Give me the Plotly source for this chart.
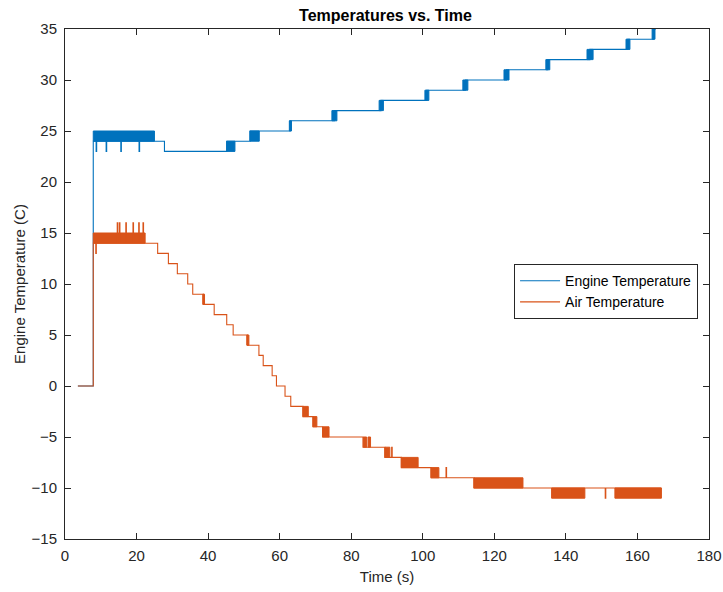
import plotly.graph_objects as go

# ---------------- data ----------------
# Engine temperature: step signal (value holds until next time)
engine_t = [3.6, 7.9, 8.7, 8.85, 11.5, 11.65, 15.6, 15.75, 20.7, 20.85, 25.0,
            27.8, 45.2, 51.7, 62.9, 75.3, 88.3, 101.1, 111.9, 123.4, 134.9,
            146.7, 157.3, 164.5, 165.2]
engine_v = [0, 24, 23, 24, 23, 24, 23, 24, 23, 24, 24,
            23, 24, 25, 26, 27, 28, 29, 30, 31, 32,
            33, 34, 35, 35]
# Engine dither bands (signal toggling rapidly between two levels)
engine_band_start = [7.9, 45.2, 51.7, 62.7, 74.6, 87.8, 100.6, 111.2, 122.7, 134.4, 145.9, 156.8, 164.1]
engine_band_end = [25.0, 47.5, 54.3, 63.3, 76.0, 89.0, 101.7, 112.6, 124.1, 135.5, 147.6, 157.9, 164.9]
engine_band_low = [24, 23, 24, 25, 26, 27, 28, 29, 30, 31, 32, 33, 34]
engine_band_high = [25, 24, 25, 26, 27, 28, 29, 30, 31, 32, 33, 34, 35]

# Air temperature
air_t = [3.6, 7.9, 8.6, 8.75, 14.6, 14.75, 15.2, 15.35, 17.0, 17.15, 19.0, 19.15,
         20.6, 20.75, 21.8, 21.95, 25.9, 28.9, 31.4, 34.3, 35.7, 38.7, 41.7,
         45.2, 47.0, 51.0, 54.2, 55.4, 57.9, 59.1, 61.5, 63.1, 66.5, 69.3,
         72.0, 83.3, 89.4, 91.3, 91.45, 94.0, 102.3, 106.5, 106.65, 114.3,
         151.0, 151.15, 166.7]
air_v = [0, 14, 13, 14, 16, 14, 16, 14, 16, 14, 16, 14,
         16, 14, 16, 14, 13, 12, 11, 10, 9, 8, 7,
         6, 5, 4, 3, 2, 1, 0, -1, -2, -3, -4,
         -5, -6, -7, -6, -7, -8, -9, -8, -9, -10,
         -11, -10, -10]
air_band_start = [7.9, 38.5, 50.8, 66.5, 69.3, 72.0, 83.4, 84.7, 89.4, 94.0, 102.3, 114.3, 136.0, 153.7]
air_band_end = [22.4, 39.0, 51.4, 68.0, 70.4, 73.8, 84.3, 85.4, 90.8, 98.7, 104.5, 128.0, 145.3, 166.7]
air_band_low = [14, 8, 4, -3, -4, -5, -6, -6, -7, -8, -9, -10, -11, -11]
air_band_high = [15, 9, 5, -2, -3, -4, -5, -5, -6, -7, -8, -9, -10, -10]

x_ticks = [0, 20, 40, 60, 80, 100, 120, 140, 160, 180]
y_ticks = [-15, -10, -5, 0, 5, 10, 15, 20, 25, 30, 35]

BLUE = "#0072BD"
ORANGE = "#D95319"
INK = "#262626"
FONT = "Liberation Sans, Arial, sans-serif"


def band_xy(starts, ends, lows, highs):
    xs, ys = [], []
    for s, e, lo, hi in zip(starts, ends, lows, highs):
        xs += [s, e, e, s, s, None]
        ys += [lo, lo, hi, hi, lo, None]
    return xs, ys


fig = go.Figure()

ebx, eby = band_xy(engine_band_start, engine_band_end, engine_band_low, engine_band_high)
fig.add_trace(go.Scatter(x=ebx, y=eby, mode="lines", fill="toself", fillcolor=BLUE,
                         line=dict(color=BLUE, width=1), showlegend=False, hoverinfo="skip"))
fig.add_trace(go.Scatter(x=engine_t, y=engine_v, mode="lines", name="Engine Temperature",
                         line=dict(color=BLUE, width=1.1, shape="hv")))

abx, aby = band_xy(air_band_start, air_band_end, air_band_low, air_band_high)
fig.add_trace(go.Scatter(x=abx, y=aby, mode="lines", fill="toself", fillcolor=ORANGE,
                         line=dict(color=ORANGE, width=1), showlegend=False, hoverinfo="skip"))
fig.add_trace(go.Scatter(x=air_t, y=air_v, mode="lines", name="Air Temperature",
                         line=dict(color=ORANGE, width=1.1, shape="hv")))

axis_common = dict(showline=True, linecolor=INK, linewidth=1, mirror="ticks",
                   ticks="inside", ticklen=6, tickcolor=INK, tickwidth=1,
                   showgrid=False, zeroline=False, automargin=False,
                   tickfont=dict(family=FONT, size=15, color=INK))

fig.update_xaxes(range=[0, 180], tickvals=x_ticks, ticklabelstandoff=3,
                 title=dict(text="Time (s)", font=dict(family=FONT, size=15, color=INK), standoff=8),
                 **axis_common)
fig.update_yaxes(range=[-15, 35], tickvals=y_ticks, ticklabelstandoff=4,
                 title=dict(text="Engine Temperature (C)", font=dict(family=FONT, size=15, color=INK), standoff=2),
                 **axis_common)

fig.update_layout(
    width=723, height=592,
    margin=dict(l=65, r=14, t=29, b=53, autoexpand=False),
    paper_bgcolor="white", plot_bgcolor="white",
    title=dict(text="<b>Temperatures vs. Time</b>", x=385.5 / 723, xanchor="center",
               y=1 - 15 / 592, yanchor="middle",
               font=dict(family=FONT, size=16, color="black")),
    legend=dict(x=0.983, y=0.539, xanchor="right", yanchor="top",
                bgcolor="white", bordercolor=INK, borderwidth=1,
                font=dict(family=FONT, size=14, color="black"),
                itemwidth=40, tracegroupgap=0),
    showlegend=True,
)

fig.write_html("out.html", config={"displayModeBar": False},
               post_script="document.body.style.margin='0';")
